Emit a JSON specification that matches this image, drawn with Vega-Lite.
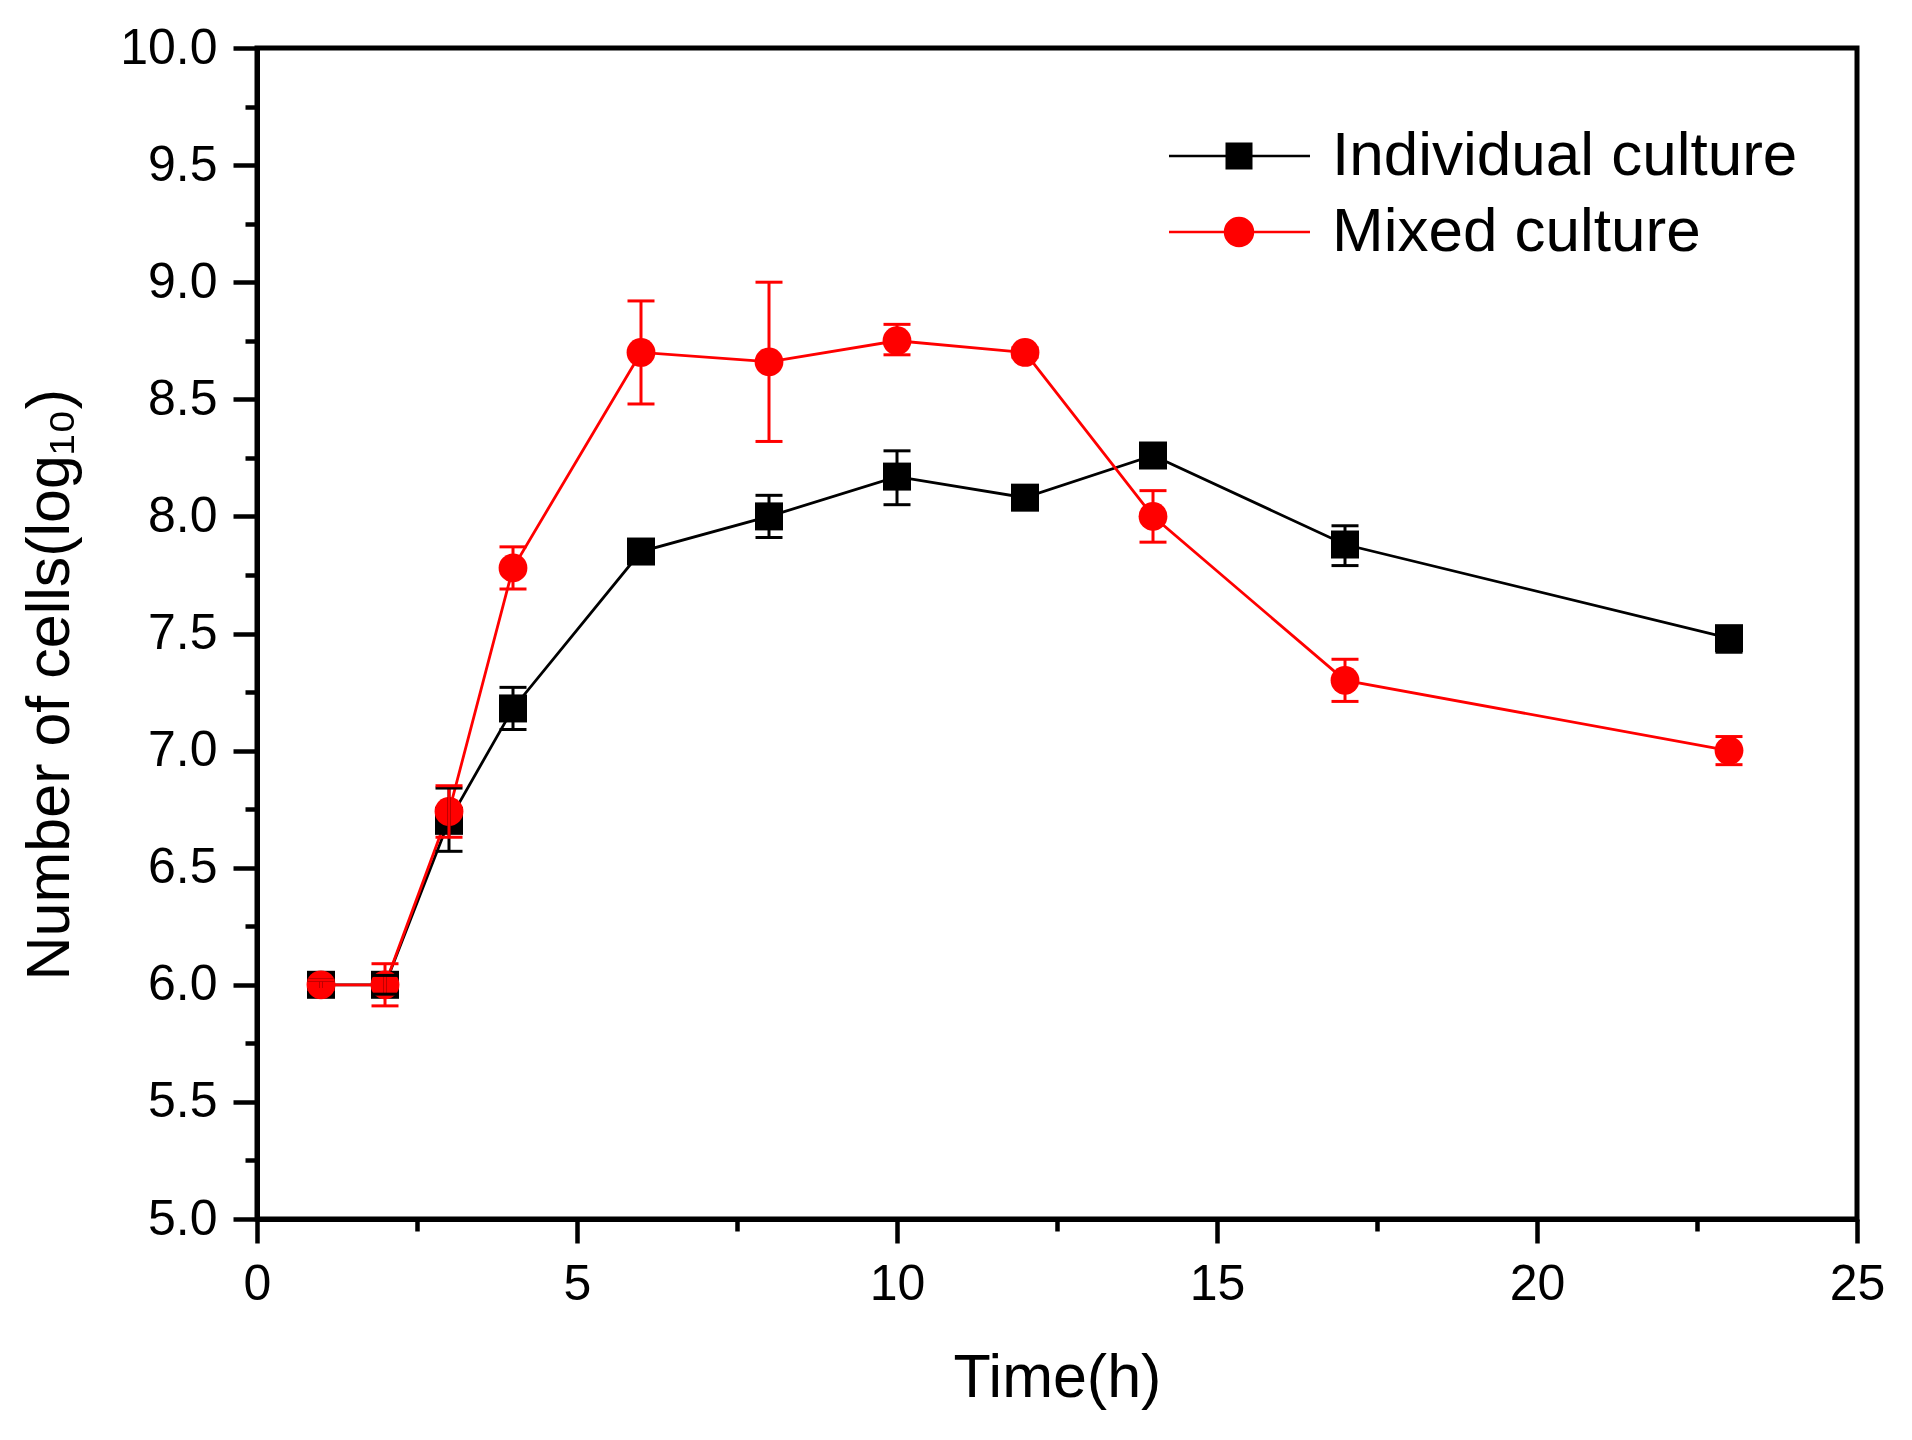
{
  "$schema": "https://vega.github.io/schema/vega-lite/v6.json",
  "autosize": {"type": "none"},
  "padding": {"left": 257, "top": 48, "right": 55, "bottom": 221},
  "width": 1600,
  "height": 1171,
  "background": "white",
  "data": {
    "values": [
      {"t": 1, "series": "Individual culture", "v": 6.00, "lo": 5.98, "hi": 6.02},
      {"t": 2, "series": "Individual culture", "v": 6.00, "lo": 5.96, "hi": 6.04},
      {"t": 3, "series": "Individual culture", "v": 6.70, "lo": 6.57, "hi": 6.84},
      {"t": 4, "series": "Individual culture", "v": 7.18, "lo": 7.09, "hi": 7.27},
      {"t": 6, "series": "Individual culture", "v": 7.85, "lo": 7.83, "hi": 7.87},
      {"t": 8, "series": "Individual culture", "v": 8.00, "lo": 7.91, "hi": 8.09},
      {"t": 10, "series": "Individual culture", "v": 8.17, "lo": 8.05, "hi": 8.28},
      {"t": 12, "series": "Individual culture", "v": 8.08, "lo": 8.06, "hi": 8.10},
      {"t": 14, "series": "Individual culture", "v": 8.26, "lo": 8.24, "hi": 8.28},
      {"t": 17, "series": "Individual culture", "v": 7.88, "lo": 7.79, "hi": 7.96},
      {"t": 23, "series": "Individual culture", "v": 7.48, "lo": 7.42, "hi": 7.53},
      {"t": 1, "series": "Mixed culture", "v": 6.00, "lo": 5.98, "hi": 6.02},
      {"t": 2, "series": "Mixed culture", "v": 6.00, "lo": 5.91, "hi": 6.09},
      {"t": 3, "series": "Mixed culture", "v": 6.74, "lo": 6.63, "hi": 6.85},
      {"t": 4, "series": "Mixed culture", "v": 7.78, "lo": 7.69, "hi": 7.87},
      {"t": 6, "series": "Mixed culture", "v": 8.70, "lo": 8.48, "hi": 8.92},
      {"t": 8, "series": "Mixed culture", "v": 8.66, "lo": 8.32, "hi": 9.00},
      {"t": 10, "series": "Mixed culture", "v": 8.75, "lo": 8.69, "hi": 8.82},
      {"t": 12, "series": "Mixed culture", "v": 8.70, "lo": 8.68, "hi": 8.72},
      {"t": 14, "series": "Mixed culture", "v": 8.00, "lo": 7.89, "hi": 8.11},
      {"t": 17, "series": "Mixed culture", "v": 7.30, "lo": 7.21, "hi": 7.39},
      {"t": 23, "series": "Mixed culture", "v": 7.00, "lo": 6.94, "hi": 7.06}
    ]
  },
  "encoding": {
    "x": {
      "field": "t",
      "type": "quantitative",
      "scale": {"domain": [0, 25], "nice": false, "zero": false},
      "axis": {
        "title": "Time(h)",
        "values": [0, 2.5, 5, 7.5, 10, 12.5, 15, 17.5, 20, 22.5, 25],
        "labelExpr": "datum.value % 5 === 0 ? format(datum.value, 'd') : ''",
        "tickSize": {"condition": {"test": "datum.value % 5 !== 0", "value": 12}, "value": 24},
        "titleY": 177,
        "titleBaseline": "alphabetic"
      }
    },
    "color": {
      "field": "series",
      "type": "nominal",
      "scale": {"domain": ["Individual culture", "Mixed culture"], "range": ["#000000", "#ff0000"]},
      "legend": {
        "orient": "none",
        "legendX": 991,
        "legendY": 77,
        "title": null,
        "padding": 0,
        "symbolSize": 784,
        "symbolStrokeWidth": 2.5,
        "symbolOpacity": 1,
        "symbolType": {"expr": "datum.value === 'Mixed culture' ? 'M-7.857,0H2.214M-1.857,0A1,1,0,1,1,-3.857,0A1,1,0,1,1,-1.857,0Z' : 'M-7.857,0H2.214M-3.732,-0.875H-1.982V0.875H-3.732Z'"},
        "symbolStrokeColor": {"expr": "scale('color', datum.value)"},
        "symbolFillColor": {"expr": "scale('color', datum.value)"},
        "labelOffset": 22,
        "rowPadding": 14,
        "labelLimit": 0,
        "labelFont": "Liberation Sans",
        "labelFontSize": 62,
        "labelColor": "black"
      }
    }
  },
  "layer": [
    {
      "mark": {"type": "line", "strokeWidth": 2.8},
      "encoding": {
        "y": {
          "field": "v",
          "type": "quantitative",
          "scale": {"domain": [5, 10], "nice": false, "zero": false},
          "axis": {
            "title": "Number of cells(log₁₀)",
            "values": [5, 5.25, 5.5, 5.75, 6, 6.25, 6.5, 6.75, 7, 7.25, 7.5, 7.75, 8, 8.25, 8.5, 8.75, 9, 9.25, 9.5, 9.75, 10],
            "labelExpr": "(datum.value * 2) % 1 === 0 ? format(datum.value, '.1f') : ''",
            "tickSize": {"condition": {"test": "(datum.value * 2) % 1 !== 0", "value": 12}, "value": 24},
            "titleX": -189,
            "titleY": 932,
            "titleAngle": -90,
            "titleAlign": "left",
            "titleBaseline": "alphabetic"
          }
        }
      }
    },
    {
      "transform": [{"filter": "datum.series === 'Individual culture'"}],
      "mark": {"type": "point", "shape": "square", "filled": true, "size": 784, "opacity": 1, "strokeWidth": 0},
      "encoding": {
        "y": {"field": "v", "type": "quantitative"}
      }
    },
    {
      "transform": [{"filter": "datum.series === 'Mixed culture'"}],
      "mark": {"type": "point", "shape": "circle", "filled": true, "size": 830, "opacity": 1, "strokeWidth": 0},
      "encoding": {
        "y": {"field": "v", "type": "quantitative"}
      }
    },
    {
      "mark": {"type": "rule", "strokeWidth": 3},
      "encoding": {
        "y": {"field": "lo", "type": "quantitative"},
        "y2": {"field": "hi"}
      }
    },
    {
      "mark": {"type": "tick", "orient": "horizontal", "size": 27, "thickness": 3, "opacity": 1},
      "encoding": {
        "y": {"field": "lo", "type": "quantitative"}
      }
    },
    {
      "mark": {"type": "tick", "orient": "horizontal", "size": 27, "thickness": 3, "opacity": 1},
      "encoding": {
        "y": {"field": "hi", "type": "quantitative"}
      }
    }
  ],
  "config": {
    "view": {"stroke": "black", "strokeWidth": 5},
    "axis": {
      "grid": false,
      "domainColor": "black",
      "domainWidth": 5,
      "tickColor": "black",
      "tickWidth": 4.5,
      "labelFont": "Liberation Sans",
      "labelFontSize": 50,
      "labelColor": "black",
      "labelPadding": 16,
      "labelFlush": false,
      "labelOverlap": false,
      "titleFont": "Liberation Sans",
      "titleFontSize": 61,
      "titleFontWeight": "normal",
      "titleColor": "black"
    }
  }
}
